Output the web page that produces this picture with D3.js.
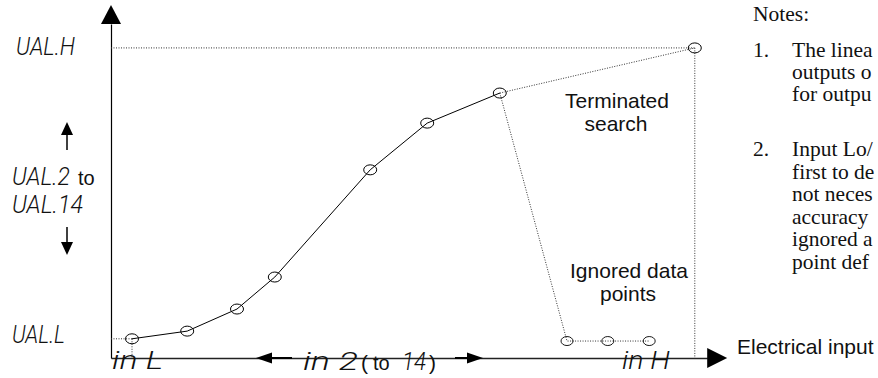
<!DOCTYPE html>
<html>
<head>
<meta charset="utf-8">
<script src="https://cdn.jsdelivr.net/npm/d3@7/dist/d3.min.js"></script>
<style>
    body { margin: 0; background: #fff; }
    svg { display: block; }
    .seg { font-family: Roboto, "DejaVu Sans Condensed", sans-serif; font-style: italic; font-weight: 300; fill: #111; }
    .sans { font-family: "Liberation Sans", Arial, sans-serif; fill: #111; }
    .serif { font-family: "Liberation Serif", "Times New Roman", serif; fill: #111; }
</style>
</head>
<body>
<div id="root"></div>
<script>
// linearisation points (electrical input vs displayed value, both 0..100)
var curveX = [3.5, 12.7, 21, 27.3, 43.2, 52.7, 64.8]
var curveY = [6, 8.4, 15.3, 25.3, 58.8, 73.4, 82.8]
// points after the terminated search
var ignoredX = [76, 82.8, 89.7]
var ignoredY = [5.3, 5.3, 5.3]
// in H / UAL.H end point
var endX = [97.3]
var endY = [96.9]
// labels
var yLabels = ['UAL.H', 'UAL.2', 'UAL.14', 'UAL.L']
var xLabels = ['in L', 'in 2', '14', 'in H']
var notes1 = ['The linea', 'outputs o', 'for outpu']
var notes2 = ['Input Lo/', 'first to de', 'not neces', 'accuracy', 'ignored a', 'point def']

var width = 878, height = 378
var svg = d3.select('#root').append('svg')
    .attr('width', width)
    .attr('height', height)

var x = d3.scaleLinear().domain([0, 100]).range([111, 711])
var y = d3.scaleLinear().domain([0, 100]).range([358, 38])
var xEnd = 102.7, yEnd = 110.3   // arrow tips

var dotted = function (sel) {
    return sel.attr('fill', 'none').attr('stroke', '#333')
        .attr('stroke-width', 1).attr('stroke-dasharray', '1,1.5')
}

// axes (no ticks, just the lines)
var xAxisScale = d3.scaleLinear().domain([0, xEnd - 3.3]).range([x(0), x(xEnd - 3.3)])
var yAxisScale = d3.scaleLinear().domain([0, yEnd - 5.9]).range([y(0), y(yEnd - 5.9)])
var gx = svg.append('g').attr('transform', 'translate(0,' + y(0) + ')')
    .call(d3.axisBottom(xAxisScale).tickValues([]).tickSizeOuter(0))
gx.select('.domain').attr('stroke', '#222').attr('stroke-width', 1.6)
var gy = svg.append('g').attr('transform', 'translate(' + x(0) + ',0)')
    .call(d3.axisLeft(yAxisScale).tickValues([]).tickSizeOuter(0))
gy.select('.domain').attr('stroke', '#000').attr('stroke-width', 1.2)

// arrow heads
var tri = function (pts) { return 'M' + pts.map(function (p) { return p.join(',') }).join('L') + 'Z' }
svg.append('path').attr('fill', '#000')
    .attr('d', tri([[x(0), y(yEnd)], [x(0) - 10, y(yEnd) + 19], [x(0) + 10, y(yEnd) + 19]]))
svg.append('path').attr('fill', '#000')
    .attr('d', tri([[x(xEnd), y(0)], [x(xEnd) - 20, y(0) - 10], [x(xEnd) - 20, y(0) + 10]]))

// guide lines
svg.append('line').call(dotted)
    .attr('x1', x(0)).attr('x2', x(endX[0])).attr('y1', y(endY[0])).attr('y2', y(endY[0]))
svg.append('line').call(dotted)
    .attr('x1', x(0)).attr('x2', x(curveX[0])).attr('y1', y(curveY[0])).attr('y2', y(curveY[0]))
svg.append('line').call(dotted)
    .attr('x1', x(curveX[0])).attr('x2', x(curveX[0])).attr('y1', y(curveY[0])).attr('y2', y(0))
svg.append('line').call(dotted)
    .attr('x1', x(endX[0])).attr('x2', x(endX[0])).attr('y1', y(endY[0])).attr('y2', y(0))

var line = d3.line()
    .x(function (d) { return x(d[0]) })
    .y(function (d) { return y(d[1]) })
var last = curveX.length - 1
// terminated search: last good point to end point, and to the ignored points
svg.append('path').call(dotted)
    .attr('d', line([[curveX[last], curveY[last]], [endX[0], endY[0]]]))
svg.append('path').call(dotted)
    .attr('d', line([[curveX[last], curveY[last]]].concat(d3.zip(ignoredX, ignoredY))))

// main curve
svg.append('path')
    .attr('fill', 'none').attr('stroke', '#000').attr('stroke-width', 1)
    .attr('d', line(d3.zip(curveX, curveY)))

svg.append('g').selectAll('ellipse')
    .data(d3.zip(curveX, curveY).concat(d3.zip(endX, endY)))
    .enter().append('ellipse')
    .attr('cx', function (d) { return x(d[0]) })
    .attr('cy', function (d) { return y(d[1]) })
    .attr('rx', 6.5).attr('ry', 5)
    .attr('fill', 'none').attr('stroke', '#000').attr('stroke-width', 1)
svg.append('g').selectAll('ellipse')
    .data(d3.zip(ignoredX, ignoredY))
    .enter().append('ellipse')
    .attr('cx', function (d) { return x(d[0]) })
    .attr('cy', function (d) { return y(d[1]) })
    .attr('rx', 6).attr('ry', 4.5)
    .attr('fill', 'none').attr('stroke', '#000').attr('stroke-width', 0.9)

// seven segment style labels on the y side
var seg = function (txt, px, py, len) {
    return svg.append('text').attr('class', 'seg')
        .attr('x', px).attr('y', py)
        .attr('font-size', 25)
        .attr('textLength', len).attr('lengthAdjust', 'spacingAndGlyphs')
        .attr('xml:space', 'preserve')
        .text(txt)
}
seg(yLabels[0], 16, y(endY[0]) + 7, 59)
seg(yLabels[1], 12, 185, 58)
seg(yLabels[2], 12, 213, 71)
seg(yLabels[3], 12, y(curveY[0]) + 4, 53)
svg.append('text').attr('class', 'sans').attr('x', 78).attr('y', 185)
    .attr('font-size', 20).text('to')

// small up / down arrows
var ax = 67
svg.append('line').attr('x1', ax).attr('x2', ax).attr('y1', 132).attr('y2', 150)
    .attr('stroke', '#000').attr('stroke-width', 1.5)
svg.append('path').attr('fill', '#000').attr('d', tri([[ax, 122], [ax - 6, 135], [ax + 6, 135]]))
svg.append('line').attr('x1', ax).attr('x2', ax).attr('y1', 227).attr('y2', 245)
    .attr('stroke', '#000').attr('stroke-width', 1.5)
svg.append('path').attr('fill', '#000').attr('d', tri([[ax, 255], [ax - 6, 242], [ax + 6, 242]]))

// x side labels
seg(xLabels[0], 112, 369, 51)
seg(xLabels[1], 303, 370, 55)
seg(xLabels[2], 402, 370, 24)
seg(xLabels[3], 622, 369, 48)
svg.append('text').attr('class', 'sans').attr('x', 361).attr('y', 370)
    .attr('font-size', 21).text('(')
svg.append('text').attr('class', 'sans').attr('x', 373).attr('y', 370)
    .attr('font-size', 20).text('to')
svg.append('text').attr('class', 'sans').attr('x', 429).attr('y', 370)
    .attr('font-size', 21).text(')')

// arrows along the x axis for "in 2 (to 14)"
var ay = y(0)
svg.append('line').attr('x1', 268).attr('x2', 292).attr('y1', ay).attr('y2', ay)
    .attr('stroke', '#000').attr('stroke-width', 2)
svg.append('path').attr('fill', '#000').attr('d', tri([[256, ay], [272, ay - 5.5], [272, ay + 5.5]]))
svg.append('line').attr('x1', 455).attr('x2', 470).attr('y1', ay).attr('y2', ay)
    .attr('stroke', '#000').attr('stroke-width', 2)
svg.append('path').attr('fill', '#000').attr('d', tri([[483, ay], [467, ay - 5.5], [467, ay + 5.5]]))

// annotations
var sans = function (txt, px, py, anchor) {
    return svg.append('text').attr('class', 'sans')
        .attr('x', px).attr('y', py).attr('font-size', 21)
        .attr('text-anchor', anchor || 'start').text(txt)
}
sans('Terminated', 617, 108, 'middle')
sans('search', 616, 131, 'middle')
sans('Ignored data', 629, 278, 'middle')
sans('points', 628, 301, 'middle')
sans('Electrical input', 737, 354)

// notes
var serif = function (txt, px, py) {
    return svg.append('text').attr('class', 'serif')
        .attr('x', px).attr('y', py).attr('font-size', 21.5).text(txt)
}
serif('Notes:', 753, 21)
serif('1.', 753, 57)
notes1.forEach(function (t, i) { serif(t, 792, 57 + i * 22) })
serif('2.', 753, 156)
notes2.forEach(function (t, i) { serif(t, 792, 156 + i * 22.5) })
</script>
</body>
</html>
